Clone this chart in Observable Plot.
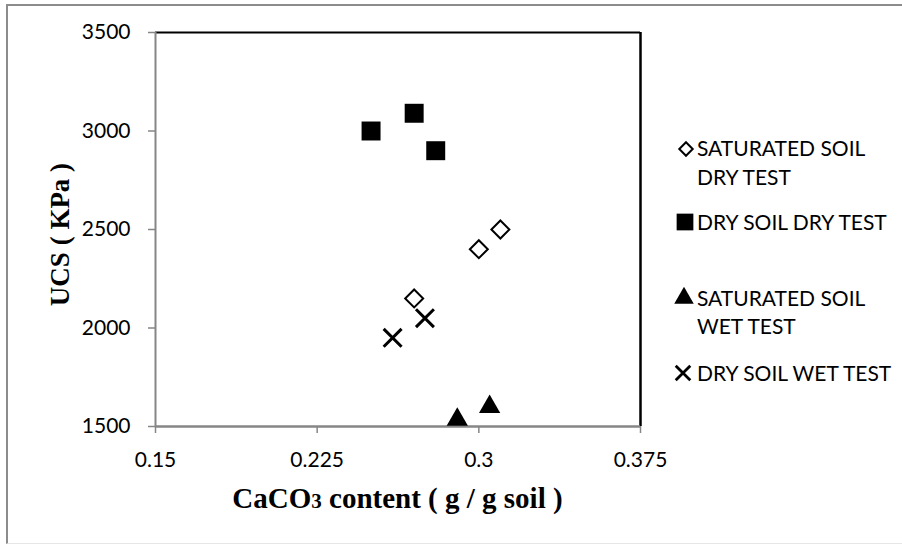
<!DOCTYPE html>
<html>
<head>
<meta charset="utf-8">
<script src="https://cdn.jsdelivr.net/npm/d3@7"></script>
<script src="https://cdn.jsdelivr.net/npm/@observablehq/plot@0.6"></script>
<style>
  html, body { margin: 0; padding: 0; background: #fff; }
  #chart { position: relative; width: 902px; height: 546px; overflow: hidden; background: #fff; }
  #chart svg.plot { position: absolute; left: 0; top: 0; }
  .frame { position: absolute; left: 6px; top: 4px; width: 900px; height: 540px;
           border-left: 2px solid #8c8c8c; border-top: 2px solid #8c8c8c; border-bottom: 1px solid #e6e6e6; box-sizing: border-box; }
  .title { position: absolute; font-family: "Liberation Serif", "Times New Roman", serif; font-weight: bold;
           font-size: 29px; line-height: 29px; color: #000; white-space: nowrap; text-align: center; }
  .legtxt { position: absolute; font-family: Lato, sans-serif; font-size: 21px; line-height: 21px; color: #000; white-space: nowrap; }
  .legsym { position: absolute; overflow: visible; }
</style>
</head>
<body>
<div id="chart"></div>
<script>
// ---- data ----
const seriesNames = ["SATURATED SOIL DRY TEST", "DRY SOIL DRY TEST", "SATURATED SOIL WET TEST", "DRY SOIL WET TEST"];
const satDryX = [0.27, 0.30, 0.31];
const satDryY = [2150, 2400, 2500];
const dryDryX = [0.25, 0.27, 0.28];
const dryDryY = [3000, 3090, 2900];
const satWetX = [0.29, 0.305];
const satWetY = [1535, 1600];
const dryWetX = [0.26, 0.275];
const dryWetY = [1950, 2050];
const xTicks = [0.15, 0.225, 0.3, 0.375];
const xTickLabels = ["0.15", "0.225", "0.3", "0.375"];
const yTicks = [1500, 2000, 2500, 3000, 3500];
const yTickLabels = ["1500", "2000", "2500", "3000", "3500"];
const legendLines = [["SATURATED SOIL", "DRY TEST"], ["DRY SOIL DRY TEST"], ["SATURATED SOIL", "WET TEST"], ["DRY SOIL WET TEST"]];

const toRows = (xs, ys) => xs.map((x, i) => ({x, y: ys[i]}));
const satDry = toRows(satDryX, satDryY);
const dryDry = toRows(dryDryX, dryDryY);
const satWet = toRows(satWetX, satWetY);
const dryWet = toRows(dryWetX, dryWetY);

const W = 902, H = 546;
const axisGray = "#868686";

const plot = Plot.plot({
  width: W, height: H,
  marginLeft: 155, marginRight: W - 640, marginTop: 32, marginBottom: H - 426,
  x: {domain: [0.15, 0.375]},
  y: {domain: [1500, 3500]},
  style: {fontFamily: "Lato, sans-serif", fontSize: "21px", color: "#000", background: "transparent", overflow: "visible"},
  marks: [
    Plot.ruleY([3500], {stroke: "#000", strokeWidth: 2}),
    Plot.ruleX([0.375], {stroke: "#000", strokeWidth: 2.5}),
    Plot.axisY({ticks: yTicks, tickFormat: (d, i) => yTickLabels[i], tickSize: 7, tickPadding: 18, stroke: axisGray, strokeWidth: 1.5, fill: "#000", label: null}),
    Plot.axisX({ticks: xTicks, tickFormat: (d, i) => xTickLabels[i], tickSize: 7, tickPadding: 19, stroke: axisGray, strokeWidth: 1.5, fill: "#000", label: null}),
    Plot.ruleX([0.15], {stroke: axisGray, strokeWidth: 2}),
    Plot.ruleY([1500], {stroke: axisGray, strokeWidth: 2.5}),
    Plot.dot(dryDry, {x: "x", y: "y", symbol: "square", r: 10.7, fill: "#000", stroke: "none"}),
    Plot.dot(satDry, {x: "x", y: "y", symbol: "diamond2", r: 8.1, fill: "#fff", stroke: "#000", strokeWidth: 2}),
    Plot.dot(dryWet, {x: "x", y: "y", symbol: "times", r: 8.2, stroke: "#000", strokeWidth: 3}),
    Plot.dot(satWet, {x: "x", y: "y", symbol: "triangle", r: 7.9, fill: "#000", stroke: "none"})
  ]
});
plot.classList.add("plot");

const chart = document.getElementById("chart");
chart.appendChild(plot);

const frame = document.createElement("div");
frame.className = "frame";
chart.appendChild(frame);

// axis titles
const xt = document.createElement("div");
xt.className = "title";
xt.style.left = "155px"; xt.style.width = "485px"; xt.style.top = "484px";
xt.innerHTML = 'CaCO<span style="font-size:21px">3</span> content ( g / g soil )';
chart.appendChild(xt);

const yt = document.createElement("div");
yt.className = "title";
yt.style.width = "300px";
yt.style.fontSize = "27px";
yt.style.lineHeight = "27px";
yt.style.left = (60 - 150) + "px";
yt.style.top = (234 - 13.5) + "px";
yt.style.transform = "rotate(-90deg)";
yt.textContent = "UCS ( KPa )";
chart.appendChild(yt);

// legend
const symbols = [d3.symbolDiamond2, d3.symbolSquare, d3.symbolTriangle, d3.symbolTimes];
const symSizes = [115, 280, 165, 140];
const symFill = ["#fff", "#000", "#000", "none"];
const symStrokeW = [2, 0, 0, 2.8];
const entryTops = [148.5, 222, 298, 373];   // cap-centre of first line
const symX = [686, 684.5, 684, 683];
const lineGap = 28.5;
legendLines.forEach((lines, k) => {
  const svg = d3.create("svg").attr("class", "legsym").attr("width", 30).attr("height", 30)
    .style("left", (symX[k] - 15) + "px").style("top", (entryTops[k] - 15) + "px");
  svg.append("path")
    .attr("transform", "translate(15,15)")
    .attr("d", d3.symbol(symbols[k], symSizes[k])())
    .attr("fill", symFill[k])
    .attr("stroke", symStrokeW[k] ? "#000" : "none")
    .attr("stroke-width", symStrokeW[k]);
  chart.appendChild(svg.node());
  lines.forEach((t, j) => {
    const d = document.createElement("div");
    d.className = "legtxt";
    d.style.left = "697px";
    d.style.top = (entryTops[k] + j * lineGap - 11.1) + "px";
    d.textContent = t;
    chart.appendChild(d);
  });
});
</script>
</body>
</html>
